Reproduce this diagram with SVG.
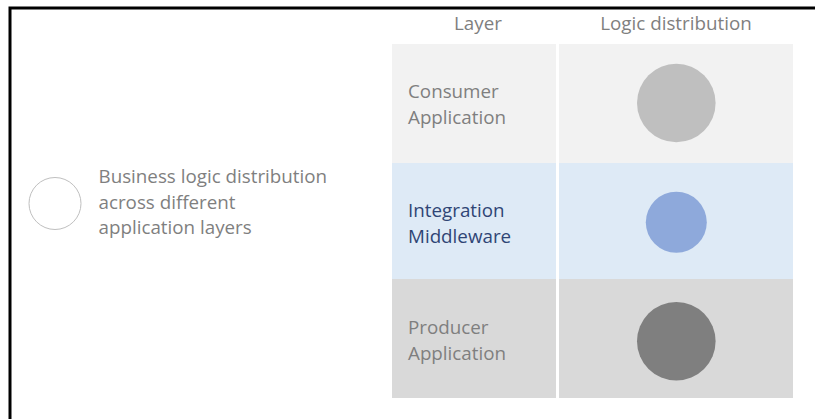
<svg xmlns="http://www.w3.org/2000/svg" width="815" height="419" viewBox="0 0 815 419">
<style>
text{font-family:"Open Sans","Noto Sans","Liberation Sans",sans-serif;font-size:18.8px;fill:#7F7F7F}
.hdr{text-anchor:middle}
.mid{fill:#2F4575}
.r1{fill:#F2F2F2}
.r2{fill:#DEEAF6}
.r3{fill:#D9D9D9}
</style>
<rect x="0" y="0" width="815" height="419" fill="#FFFFFF"/>
<g id="frame" fill="none" stroke="#000000" stroke-width="3">
<path d="M10 419 V8 H815"/>
</g>
<g id="legend">
<circle cx="55" cy="203.5" r="26" fill="#FFFFFF" stroke="#BFBFBF" stroke-width="1"/>
<text x="98.5" y="183">Business logic distribution</text>
<text x="98.5" y="208.5">across different</text>
<text x="98.5" y="234">application layers</text>
</g>
<g id="header">
<text class="hdr" x="478" y="29.5">Layer</text>
<text class="hdr" x="676" y="29.5">Logic distribution</text>
</g>
<g id="consumer">
<rect class="r1" x="392" y="44" width="164" height="119"/>
<rect class="r1" x="559" y="44" width="234" height="119"/>
<text x="408" y="98">Consumer</text>
<text x="408" y="123.5">Application</text>
<circle cx="676.3" cy="103" r="39.3" fill="#BFBFBF"/>
</g>
<g id="middleware">
<rect class="r2" x="392" y="163" width="164" height="116"/>
<rect class="r2" x="559" y="163" width="234" height="116"/>
<text class="mid" x="408" y="217">Integration</text>
<text class="mid" x="408" y="242.5">Middleware</text>
<circle cx="676.3" cy="222.3" r="30.5" fill="#8EA9DB"/>
</g>
<g id="producer">
<rect class="r3" x="392" y="279" width="164" height="119"/>
<rect class="r3" x="559" y="279" width="234" height="119"/>
<text x="408" y="333.5">Producer</text>
<text x="408" y="359.5">Application</text>
<circle cx="676.3" cy="341.3" r="39.3" fill="#7F7F7F"/>
</g>
<g id="connectors"/>
</svg>
